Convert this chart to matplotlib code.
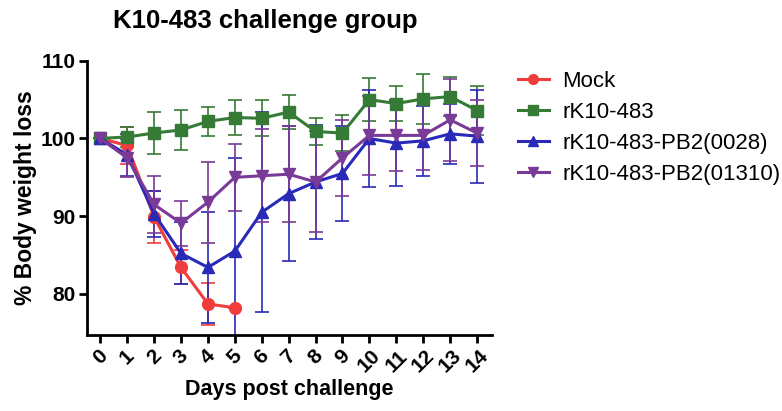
import matplotlib
matplotlib.use("Agg")
import matplotlib.pyplot as plt
from matplotlib.lines import Line2D

plt.rcParams['font.family'] = ['Liberation Sans', 'DejaVu Sans']

days = list(range(15))
day_labels = [str(d) for d in days]

mock_days = [0, 1, 2, 3, 4, 5]
mock = [100, 99.1, 89.9, 83.4, 78.7, 78.2]
mock_err = [0, 2.4, 3.3, 2.2, 2.7, 0]

rk = [100, 100.2, 100.7, 101.1, 102.2, 102.7, 102.6, 103.4, 100.9, 100.7, 105.0, 104.5, 105.1, 105.4, 103.6]
rk_err = [0, 1.3, 2.7, 2.6, 1.9, 2.3, 2.3, 2.2, 1.8, 2.3, 2.8, 2.3, 3.2, 2.5, 3.2]

pb0028 = [100, 97.9, 90.3, 85.2, 83.4, 85.5, 90.5, 92.9, 94.4, 95.5, 100.0, 99.4, 99.7, 100.6, 100.3]
pb0028_err = [0, 2.7, 3.0, 4.0, 7.1, 12.0, 12.9, 8.7, 7.3, 6.1, 6.3, 5.5, 4.5, 3.9, 6.0]

pb01310 = [100, 97.5, 91.5, 89.1, 91.8, 95.0, 95.2, 95.4, 94.4, 97.5, 100.4, 100.4, 100.4, 102.4, 100.7]
pb01310_err = [0, 2.4, 3.7, 2.9, 5.2, 4.3, 6.0, 6.2, 6.5, 4.9, 5.1, 4.6, 4.5, 5.3, 4.3]

series = [
    ("Mock", mock_days, mock, mock_err, "#f03c3c", "o"),
    ("rK10-483", days, rk, rk_err, "#357a35", "s"),
    ("rK10-483-PB2(0028)", days, pb0028, pb0028_err, "#2a2ab8", "^"),
    ("rK10-483-PB2(01310)", days, pb01310, pb01310_err, "#7a3a98", "v"),
]

fig = plt.figure(figsize=(7.82, 4.11), dpi=100)
ax = fig.add_axes([0.111, 0.185, 0.518, 0.667])

handles = []
for name, x, y, e, c, m in series:
    ax.errorbar(x, y, yerr=e, color=c, marker=m, markersize=8.5, linewidth=2.2,
                elinewidth=1.2, capsize=5, capthick=1.2, clip_on=True)
    handles.append(Line2D([], [], color=c, marker=m, markersize=7, linewidth=2.2, label=name))

ax.set_xlim(-0.5, 14.55)
ax.set_ylim(74.7, 110)
ax.set_yticks([80, 90, 100, 110])
ax.set_xticks(days)
ax.set_xticklabels(day_labels, rotation=45, ha="center", fontsize=15, fontweight="bold")
for lab in ax.get_yticklabels():
    lab.set_fontweight("bold")
    lab.set_fontsize(15)
for s in ["top", "right"]:
    ax.spines[s].set_visible(False)
for s in ["left", "bottom"]:
    ax.spines[s].set_linewidth(2)
ax.tick_params(width=2, length=6, direction="out", pad=2)

ax.set_xlabel("Days post challenge", fontsize=15.5, fontweight="bold", labelpad=2)
ax.set_ylabel("% Body weight loss", fontsize=16.5, fontweight="bold", labelpad=3)
fig.text(0.3395, 0.932, "K10-483 challenge group", fontsize=18.5, fontweight="bold",
         ha="center", va="baseline")

ax.legend(handles=handles, loc="upper left", bbox_to_anchor=(1.042, 0.995), frameon=False,
          fontsize=16, handlelength=1.4, handletextpad=0.6, labelspacing=0.45, borderaxespad=0)

fig.savefig("out.png", dpi=100)
